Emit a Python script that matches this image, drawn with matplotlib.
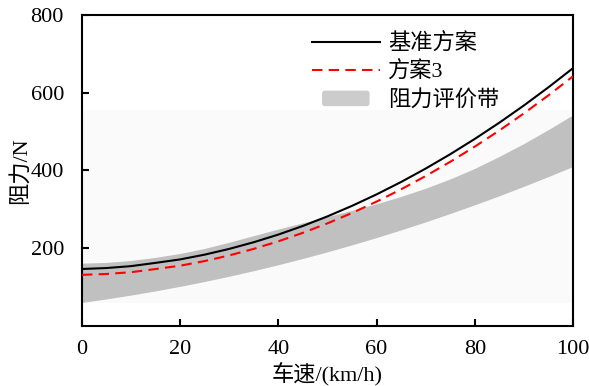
import matplotlib
matplotlib.use('Agg')
import matplotlib.pyplot as plt
from matplotlib.patches import FancyBboxPatch, Patch
from matplotlib.legend_handler import HandlerPatch

plt.rcParams['font.family'] = ['Liberation Serif', 'Noto Sans CJK SC']

# speed (km/h)
speed = [0, 5, 10, 15, 20, 25, 30, 35, 40, 45, 50,
         55, 60, 65, 70, 75, 80, 85, 90, 95, 100]
# resistance (N)
baseline = [146, 148.5, 153.4, 161.8, 170.7, 183, 197.8, 215, 234.7, 256.9, 281.5,
            308.6, 338.1, 370.1, 404.6, 441.5, 480.9, 522.7, 567, 613.8, 663]
scheme3 = [131, 133.2, 137.8, 145.9, 154.5, 166.5, 181, 197.9, 217.3, 239.2, 263.5,
           290.3, 319.5, 351.2, 385.4, 422, 461.1, 502.6, 546.6, 593.1, 642]
band_upper = [161, 163, 168, 176, 186, 199, 215, 232, 249, 265, 281,
              297, 314, 333, 354, 378, 405, 436, 469, 505, 543]
band_lower = [60, 69, 78.9, 89.7, 101.4, 113.9, 127.4, 141.8, 157, 173.2, 190.3,
              208.2, 227, 246.8, 267.4, 289, 311.4, 334.6, 358.9, 384, 410]
# faint background block behind the band
bg_lower, bg_upper = 58, 556

FS = 16

fig = plt.figure(figsize=(5.89, 3.86), dpi=100)
ax = fig.add_axes([0.1392, 0.1562, 0.8336, 0.805])

ax.fill_between([speed[0], speed[-1]], bg_lower, bg_upper, color='#fafafa', lw=0, zorder=0)
ax.fill_between(speed, band_lower, band_upper, color='#c0c0c0', lw=0, zorder=1)

l1, = ax.plot(speed, baseline, color='black', lw=1.5, zorder=3)
l2, = ax.plot(speed, scheme3, color='red', lw=1.5, ls=(0, (5, 3)), zorder=3)
band_proxy = Patch(facecolor='#cccccc', edgecolor='none')

ax.set_xlim(0, 100)
ax.set_ylim(0, 800)
ax.set_xticks([0, 20, 40, 60, 80, 100])
ax.set_yticks([200, 400, 600, 800])
ax.tick_params(direction='in', length=5, width=1.5, labelsize=FS)
ax.tick_params(axis='x', pad=10)
ax.tick_params(axis='y', pad=13)
for s in ax.spines.values():
    s.set_linewidth(1.5)

ax.set_xlabel('车速/(km/h)', fontsize=FS, labelpad=3)
ax.set_ylabel('阻力/N', fontsize=FS, labelpad=0)


def rounded_patch(legend, orig_handle, xdescent, ydescent, width, height, fontsize):
    inset = 0.15 * width
    return FancyBboxPatch((-xdescent + inset, -ydescent), width - 2 * inset, height,
                          boxstyle='round,pad=0,rounding_size=2')


leg = ax.legend([l1, l2, band_proxy], ['基准方案', '方案3', '阻力评价带'], loc='upper left',
                bbox_to_anchor=(0.468, 0.94), frameon=False, fontsize=FS,
                handlelength=3.06, handletextpad=0.36, labelspacing=0.32, borderpad=0,
                borderaxespad=0, handler_map={band_proxy: HandlerPatch(patch_func=rounded_patch)})

fig.savefig('out.png', dpi=100)
